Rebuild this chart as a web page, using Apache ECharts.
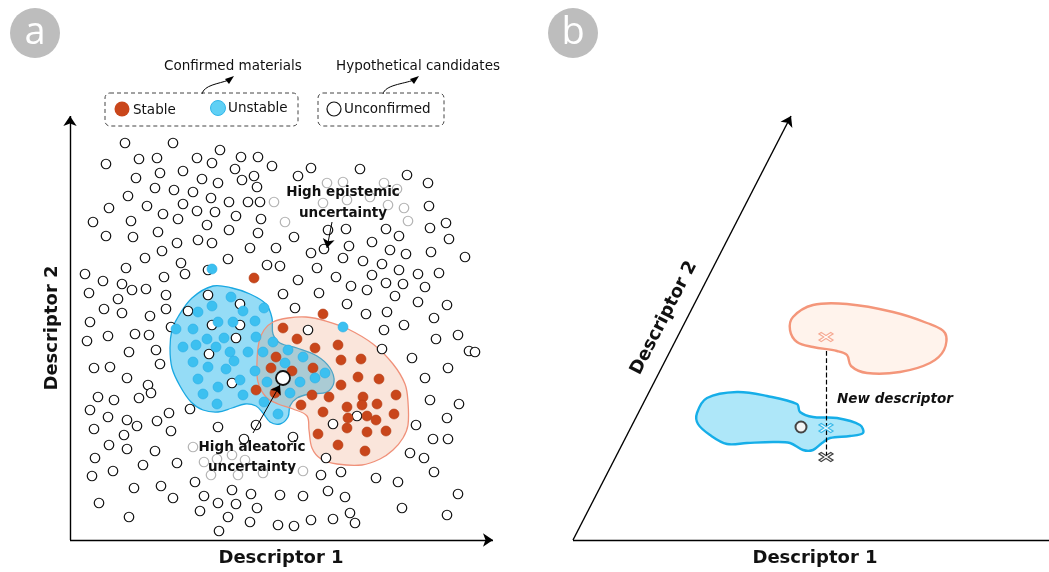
<!DOCTYPE html>
<html>
<head>
<meta charset="utf-8">
<script src="https://cdn.jsdelivr.net/npm/echarts@6/dist/echarts.min.js"></script>
<style>
  html, body { margin: 0; padding: 0; background: #fff; }
  #chart { width: 1049px; height: 572px; }
</style>
</head>
<body>
<div id="chart"></div>
<script>
// ---------- Panel a: descriptor space (positions in page units, y grows downward) ----------
const unconfirmed = [
  [125,143],[173,143],[220,150],[106,164],[139,159],[157,158],[197,158],[212,163],[241,157],[258,157],
  [272,166],[235,169],[183,171],[160,173],[136,178],[202,179],[218,183],[242,180],[254,176],[257,187],
  [155,188],[174,190],[193,192],[128,196],[211,198],[183,204],[229,202],[248,202],[260,202],[147,206],
  [109,208],[163,214],[197,211],[215,212],[236,216],[178,219],[131,221],[93,222],[261,219],[207,225],
  [158,232],[229,230],[106,236],[133,237],[258,233],[177,243],[198,240],[212,243],[162,251],[250,248],
  [276,248],[145,258],[228,259],[181,263],
  [311,168],[298,176],[360,169],[407,175],[428,183],[429,206],[446,223],[430,228],[449,239],[328,230],
  [346,229],[386,229],[399,236],[294,237],[349,246],[372,242],[324,249],[311,253],[390,250],[406,254],
  [431,252],[465,257],[343,258],[363,261],
  [126,268],[85,274],[103,281],[122,284],[132,290],[146,289],[164,277],[185,274],[89,293],[118,299],
  [104,309],[122,313],[150,316],[166,295],[166,309],[90,322],[108,336],[87,341],[135,334],[149,335],
  [129,352],[156,350],[94,368],[110,367],[160,364],[127,378],[148,385],[151,393],[98,397],[114,400],
  [139,398],[171,327],[267,265],[280,266],[208,270],
  [317,268],[382,264],[399,270],[418,274],[439,273],[298,280],[336,277],[372,275],[386,283],[403,284],
  [425,287],[351,286],[367,290],[283,294],[319,293],[395,296],[418,302],[447,305],[347,304],[295,308],
  [387,312],[366,314],[434,318],[404,325],[384,330],[308,330],[458,335],[436,339],[382,349],[469,351],
  [475,352],[412,358],[448,368],[425,378],[430,400],[459,404],
  [208,295],[240,304],[188,311],[212,325],[240,325],[236,338],[209,354],[232,383],
  [90,410],[108,417],[127,420],[137,426],[157,421],[169,413],[190,409],[94,429],[124,435],[171,431],
  [218,427],[256,425],[109,445],[127,449],[155,451],[244,439],[95,458],[143,465],[177,463],[113,471],
  [92,476],[195,482],[134,488],[161,486],[173,498],[232,490],[251,494],[204,496],[218,503],[236,504],
  [257,508],[99,503],[200,511],[228,517],[129,517],[250,522],[219,531],[278,525],[280,495],
  [447,418],[416,425],[433,439],[448,439],[333,424],[357,416],[293,437],[326,458],[410,453],[424,458],
  [434,472],[341,472],[321,475],[376,478],[398,482],[303,496],[328,491],[345,497],[458,494],[402,508],
  [350,513],[447,515],[294,526],[311,520],[333,519],[355,523]
];
const unconfirmedFaded = [
  [274,202],[327,183],[343,182],[384,183],[397,189],[323,203],[347,200],[370,197],[388,205],[404,208],
  [408,221],[285,222],
  [193,447],[204,462],[217,459],[232,455],[245,460],[211,475],[238,475],[263,473],[303,471]
];
const stable = [
  [254,278],[323,314],[283,328],[297,339],[315,348],[338,345],[341,360],[361,359],[276,357],[271,368],
  [292,371],[313,368],[358,377],[379,379],[341,385],[256,390],[275,393],[312,395],[329,397],[363,397],
  [396,395],[377,404],[301,405],[323,412],[347,407],[362,405],[394,414],[348,418],[367,416],[376,420],
  [347,428],[318,434],[367,432],[386,431],[338,445],[365,451]
];
const unstable = [
  [212,269],[343,327],[231,297],[212,306],[243,311],[198,312],[264,308],[218,322],[233,322],[255,321],
  [176,329],[193,329],[207,339],[224,338],[256,337],[183,347],[196,345],[216,347],[230,352],[248,352],
  [193,362],[208,367],[226,369],[234,361],[255,371],[198,379],[218,387],[240,380],[203,394],[243,395],
  [273,342],[263,352],[288,350],[303,357],[285,363],[267,382],[300,382],[315,378],[325,373],[290,393],
  [217,404],[264,402],[278,414]
];
const probe = [[283,378]];

// outline of the unstable (blue) and stable (orange) domains
const unstableRegion = [
  [213,286],[232,288],[250,294],[266,304],[272,318],[273,334],[280,343],[297,348],[317,356],[330,368],
  [334,382],[327,392],[310,394],[297,398],[290,406],[288,417],[280,424],[270,422],[263,413],[256,406],
  [245,404],[232,408],[218,412],[203,410],[191,402],[180,386],[172,368],[170,348],[172,330],[178,317],
  [192,298]
];
const stableRegion = [
  [273,322],[288,318],[306,317],[326,321],[348,329],[373,344],[393,364],[405,384],[408,402],[408,425],
  [403,438],[393,450],[380,459],[362,465],[337,464],[321,459],[312,448],[309,430],[307,416],[293,409],
  [278,404],[266,397],[258,382],[257,362],[259,342],[264,330]
];

// ---------- Panel b: new descriptor ----------
const stableRegionB = [
  [793,317],[813,305],[847,304],[893,312],[927,323],[945,333],[944,350],[930,363],[900,372],[867,373],
  [851,366],[847,355],[837,351],[813,347],[797,342],[790,330]
];
const unstableRegionB = [
  [697,413],[707,398],[737,392],[767,396],[797,404],[800,412],[813,417],[837,418],[860,425],[863,433],
  [850,436],[830,438],[822,443],[813,450],[803,450],[790,443],[773,442],[747,443],[727,444],[710,435],
  [698,424]
];
const projected = [
  { value: [826,337], color: '#f4967a' },
  { value: [826,428], color: '#18aee6' },
  { value: [826,457], color: '#111111' }
];
const queryB = [[801,427]];
const projectionLine = [[826,351],[826,459]];

// ---------- axes ----------
const axesA = [[[70,540],[70,116]], [[70,540],[493,540]]];
const axesB = { oblique: [[573,540],[791,116]], base: [[573,540],[1049,540]] };
const pointers = [[[332,222],[327,248]], [[253,433],[280,385]]];

const FONT = '"DejaVu Sans", sans-serif';

function regionSeries(pts, fill, stroke, width, z) {
  return {
    type: 'custom', coordinateSystem: 'cartesian2d', silent: true, z: z,
    data: [pts[0]],
    renderItem: function (params, api) {
      return {
        type: 'polygon',
        shape: { points: pts.map(function (p) { return api.coord(p); }), smooth: 0.35 },
        style: { fill: fill, stroke: stroke, lineWidth: width }
      };
    }
  };
}

function arrowSeries(segs, width, size, arrow, z, dashed) {
  return {
    type: 'lines', coordinateSystem: 'cartesian2d', silent: true, z: z,
    symbol: ['none', arrow ? 'arrow' : 'none'], symbolSize: size,
    lineStyle: { color: '#000', width: width, opacity: 1, type: dashed ? 'dashed' : 'solid' },
    data: segs.map(function (s) { return { coords: s }; })
  };
}

// curved arrow from a legend box up to its caption
function curvedArrow(x0, y0, x1, y1) {
  return [
    { type: 'bezierCurve', silent: true,
      shape: { x1: x0, y1: y0, cpx1: x0 + 2, cpy1: y0 - 9, cpx2: x1 - 14, cpy2: y1 + 6, x2: x1 - 3, y2: y1 + 2 },
      style: { stroke: '#000', lineWidth: 1, fill: null } },
    { type: 'polygon', silent: true,
      shape: { points: [[x1 + 2, y1 - 2], [x1 - 7, y1 + 1], [x1 - 3, y1 + 6]] },
      style: { fill: '#000' } }
  ];
}

const crossPath = 'path://M0,1.6 L1.6,0 L5,3.4 L8.4,0 L10,1.6 L6.6,5 L10,8.4 L8.4,10 L5,6.6 L1.6,10 L0,8.4 L3.4,5 Z';

const chart = echarts.init(document.getElementById('chart'), null, { renderer: 'canvas' });

chart.setOption({
  backgroundColor: '#ffffff',
  animation: false,
  grid: { left: 0, top: 0, width: 1049, height: 572 },
  xAxis: { type: 'value', min: 0, max: 1049, show: false },
  yAxis: { type: 'value', min: 0, max: 572, inverse: true, show: false },
  series: [
    regionSeries(unstableRegion, '#95dcf6', '#1aa8e2', 1.3, 1),
    regionSeries(stableRegion, 'rgba(236,150,110,0.25)', '#f0917a', 1.3, 2),
    { type: 'scatter', z: 3, silent: true, symbol: 'circle', symbolSize: 9.5, data: unconfirmed,
      itemStyle: { color: '#fff', borderColor: '#111', borderWidth: 1.2, opacity: 1 } },
    { type: 'scatter', z: 3, silent: true, symbol: 'circle', symbolSize: 9.5, data: unconfirmedFaded,
      itemStyle: { color: '#fff', borderColor: '#b4b4b4', borderWidth: 1.2, opacity: 1 } },
    { type: 'scatter', z: 4, silent: true, symbol: 'circle', symbolSize: 10, data: stable,
      itemStyle: { color: '#c9461b', borderColor: '#b23c14', borderWidth: 0.6, opacity: 1 } },
    { type: 'scatter', z: 4, silent: true, symbol: 'circle', symbolSize: 10, data: unstable,
      itemStyle: { color: '#3cc0f0', borderColor: '#28ade6', borderWidth: 0.6, opacity: 1 } },
    { type: 'scatter', z: 5, silent: true, symbol: 'circle', symbolSize: 14, data: probe,
      itemStyle: { color: '#fff', borderColor: '#111', borderWidth: 1.8, opacity: 1 } },
    arrowSeries(axesA, 1.4, 10, true, 6),
    arrowSeries(pointers, 1, 9, true, 6),

    regionSeries(stableRegionB, '#fff3ec', '#f4967a', 2.4, 1),
    regionSeries(unstableRegionB, '#aee7f9', '#16aee8', 2.4, 1),
    arrowSeries([projectionLine], 1.2, 0, false, 5, true),
    { type: 'scatter', z: 6, silent: true, symbol: crossPath, symbolSize: [14, 9],
      data: projected.map(function (d) {
        return { value: d.value, itemStyle: { color: '#fff', borderColor: d.color, borderWidth: 1.3 } };
      }) },
    { type: 'scatter', z: 6, silent: true, symbol: 'circle', symbolSize: 11, data: queryB,
      itemStyle: { color: '#f5f5f5', borderColor: '#444', borderWidth: 2, opacity: 1 } },
    arrowSeries([axesB.oblique], 1.4, 10, true, 6),
    arrowSeries([axesB.base], 1.4, 0, false, 6)
  ],
  graphic: [
    // panel badges
    { type: 'circle', shape: { cx: 35, cy: 33, r: 25 }, style: { fill: '#bdbdbd' }, silent: true },
    { type: 'text', x: 35, y: 33, silent: true,
      style: { text: 'a', fill: '#fff', font: '38px "Open Sans", sans-serif', align: 'center', verticalAlign: 'middle' } },
    { type: 'circle', shape: { cx: 573, cy: 33, r: 25 }, style: { fill: '#bdbdbd' }, silent: true },
    { type: 'text', x: 573, y: 33, silent: true,
      style: { text: 'b', fill: '#fff', font: '38px "Open Sans", sans-serif', align: 'center', verticalAlign: 'middle' } },

    // legend captions
    { type: 'text', x: 233, y: 66, silent: true,
      style: { text: 'Confirmed materials', fill: '#111', font: '13.5px ' + FONT, align: 'center', verticalAlign: 'middle' } },
    { type: 'text', x: 418, y: 66, silent: true,
      style: { text: 'Hypothetical candidates', fill: '#111', font: '13.5px ' + FONT, align: 'center', verticalAlign: 'middle' } },
    ...curvedArrow(202, 94, 232, 78),
    ...curvedArrow(383, 94, 417, 78),

    // legend boxes
    { type: 'rect', shape: { x: 105, y: 93, width: 193, height: 33, r: 5 }, silent: true,
      style: { fill: null, stroke: '#444', lineWidth: 1, lineDash: [4, 3] } },
    { type: 'rect', shape: { x: 318, y: 93, width: 126, height: 33, r: 5 }, silent: true,
      style: { fill: null, stroke: '#444', lineWidth: 1, lineDash: [4, 3] } },
    { type: 'circle', shape: { cx: 122, cy: 109, r: 7.5 }, silent: true, style: { fill: '#c9461b' } },
    { type: 'text', x: 133, y: 110, silent: true,
      style: { text: 'Stable', fill: '#111', font: '13.5px ' + FONT, verticalAlign: 'middle' } },
    { type: 'circle', shape: { cx: 218, cy: 108, r: 7.5 }, silent: true,
      style: { fill: '#5fd0f5', stroke: '#32b6ea', lineWidth: 1 } },
    { type: 'text', x: 228, y: 108, silent: true,
      style: { text: 'Unstable', fill: '#111', font: '13.5px ' + FONT, verticalAlign: 'middle' } },
    { type: 'circle', shape: { cx: 334, cy: 109, r: 7 }, silent: true,
      style: { fill: '#fff', stroke: '#111', lineWidth: 1.2 } },
    { type: 'text', x: 344, y: 109, silent: true,
      style: { text: 'Unconfirmed', fill: '#111', font: '13.5px ' + FONT, verticalAlign: 'middle' } },

    // annotations
    { type: 'text', x: 343, y: 203, z: 10, silent: true,
      style: { text: 'High epistemic\nuncertainty', fill: '#111', font: 'bold 13.5px ' + FONT,
               lineHeight: 21, align: 'center', verticalAlign: 'middle' } },
    { type: 'text', x: 252, y: 457, z: 10, silent: true,
      style: { text: 'High aleatoric\nuncertainty', fill: '#111', font: 'bold 13.5px ' + FONT,
               lineHeight: 20, align: 'center', verticalAlign: 'middle' } },
    { type: 'text', x: 837, y: 399, z: 10, silent: true,
      style: { text: 'New descriptor', fill: '#111', font: 'italic bold 13.5px ' + FONT, verticalAlign: 'middle' } },

    // axis titles
    { type: 'text', x: 281, y: 558, silent: true,
      style: { text: 'Descriptor 1', fill: '#111', font: 'bold 18px ' + FONT, align: 'center', verticalAlign: 'middle' } },
    { type: 'text', x: 52, y: 328, rotation: Math.PI / 2, silent: true,
      style: { text: 'Descriptor 2', fill: '#111', font: 'bold 18px ' + FONT, align: 'center', verticalAlign: 'middle' } },
    { type: 'text', x: 815, y: 558, silent: true,
      style: { text: 'Descriptor 1', fill: '#111', font: 'bold 18px ' + FONT, align: 'center', verticalAlign: 'middle' } },
    { type: 'text', x: 664, y: 318, rotation: Math.atan2(424, 218), silent: true,
      style: { text: 'Descriptor 2', fill: '#111', font: 'bold 18px ' + FONT, align: 'center', verticalAlign: 'middle' } }
  ]
});
</script>
</body>
</html>
